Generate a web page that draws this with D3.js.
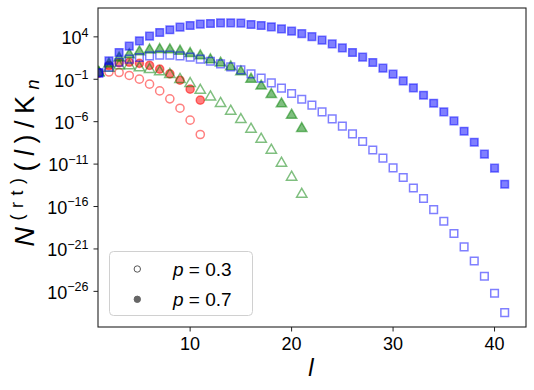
<!DOCTYPE html>
<html>
<head>
<meta charset="utf-8">
<script src="https://cdn.jsdelivr.net/npm/d3@7"></script>
<style>
  body { margin: 0; background: #fff; }
  text { font-family: "Liberation Sans", "Noto Sans", sans-serif; fill: #000; }
</style>
</head>
<body>
<svg id="chart" width="534" height="390"></svg>
<script>
// l values (cluster size)
var lValues = [1, 2, 3, 4, 5, 6, 7, 8, 9, 10, 11, 12, 13, 14, 15, 16, 17, 18, 19, 20,
  21, 22, 23, 24, 25, 26, 27, 28, 29, 30, 31, 32, 33, 34, 35, 36, 37, 38, 39, 40, 41];

// log10 of N^(rt)(l)/K_n
var redOpen = [-0.25, -0.15, -0.2, -0.55, -0.99, -1.58, -2.37, -3.31, -4.41, -5.82, -7.51];
var redFilled = [-0.25, 0.6, 0.95, 1.0, 0.88, 0.63, 0.19, -0.36, -1.11, -2.17, -3.46];
var greenOpen = [-0.25, 0.3, 0.6, 0.6, 0.35, 0.15, -0.13, -0.43, -1.02, -1.5, -2.29,
  -3.08, -3.85, -4.76, -5.74, -6.88, -8.06, -9.36, -10.89, -12.54, -14.55];
var greenFilled = [-0.2, 0.8, 1.5, 1.9, 2.23, 2.45, 2.51, 2.47, 2.31, 2.04, 1.76,
  1.3, 0.9, 0.46, -0.13, -0.99, -1.81, -2.79, -3.9, -5.23, -6.8];
var blueOpen = [-0.25, 0.43, 1.0, 1.37, 1.57, 1.76, 1.84, 1.84, 1.76, 1.61, 1.37, 1.13,
  0.82, 0.46, 0.11, -0.36, -0.87, -1.42, -2.05, -2.67, -3.35, -4.05, -4.84, -5.67,
  -6.53, -7.44, -8.34, -9.33, -10.3, -11.45, -12.58, -13.81, -15.06, -16.36, -17.73,
  -19.18, -20.76, -22.42, -24.22, -26.22, -28.5];
var blueFilled = [-0.25, 1.17, 2.16, 2.9, 3.53, 4.08, 4.52, 4.83, 5.14, 5.34, 5.5, 5.58,
  5.65, 5.65, 5.62, 5.46, 5.34, 5.18, 4.94, 4.67, 4.38, 4.02, 3.61, 3.17, 2.7, 2.16,
  1.61, 0.98, 0.31, -0.4, -1.19, -2.01, -2.88, -3.82, -4.84, -5.91, -7.12, -8.42,
  -9.83, -11.48, -13.37];

var xTicks = [10, 20, 30, 40];
var yTickExps = [4, -1, -6, -11, -16, -21, -26];
var legendLabels = ["0.3", "0.7"];

var series = [
  { v: redOpen, color: "#ff0000", shape: "circle", filled: false },
  { v: redFilled, color: "#ff0000", shape: "circle", filled: true },
  { v: greenOpen, color: "#008000", shape: "triangle", filled: false },
  { v: greenFilled, color: "#008000", shape: "triangle", filled: true },
  { v: blueOpen, color: "#0000ff", shape: "square", filled: false },
  { v: blueFilled, color: "#0000ff", shape: "square", filled: true }
];

var m = { left: 98, top: 8, right: 526, bottom: 327 };
var svg = d3.select("#chart");

var x = d3.scaleLinear().domain([0.92, 43.1]).range([m.left, m.right]);
var y = d3.scaleLog().domain([Math.pow(10, -30.2), Math.pow(10, 7.4)]).range([m.bottom, m.top]);

svg.append("clipPath").attr("id", "clip").append("rect")
  .attr("x", m.left).attr("y", m.top)
  .attr("width", m.right - m.left).attr("height", m.bottom - m.top);

var sym = {
  circle: d3.symbol().type(d3.symbolCircle).size(52),
  triangle: d3.symbol().type(d3.symbolTriangle).size(46),
  square: d3.symbol().type(d3.symbolSquare).size(58)
};

var plot = svg.append("g").attr("clip-path", "url(#clip)");
series.forEach(function(s) {
  var pts = s.v.map(function(e, i) { return { l: lValues[i], val: Math.pow(10, e) }; });
  plot.append("g").selectAll("path").data(pts).enter().append("path")
    .attr("transform", function(d) { return "translate(" + x(d.l) + "," + y(d.val) + ")"; })
    .attr("d", sym[s.shape]())
    .attr("fill", s.filled ? s.color : "none")
    .attr("fill-opacity", 0.5)
    .attr("stroke", s.color)
    .attr("stroke-opacity", 0.5)
    .attr("stroke-width", 1.5);
});

// frame
svg.append("rect").attr("x", m.left).attr("y", m.top)
  .attr("width", m.right - m.left).attr("height", m.bottom - m.top)
  .attr("fill", "none").attr("stroke", "#222").attr("stroke-width", 1.1);

// x axis
var xg = svg.append("g");
xTicks.forEach(function(t) {
  xg.append("line").attr("x1", x(t)).attr("x2", x(t))
    .attr("y1", m.bottom).attr("y2", m.bottom + 4.5).attr("stroke", "#222");
  xg.append("text").attr("x", x(t)).attr("y", 350).attr("text-anchor", "middle")
    .attr("font-size", 18).text(t);
});

// y axis
var yg = svg.append("g");
yTickExps.forEach(function(e) {
  var py = y(Math.pow(10, e));
  yg.append("line").attr("x1", m.left - 4.5).attr("x2", m.left)
    .attr("y1", py).attr("y2", py).attr("stroke", "#222");
  var t = yg.append("text").attr("x", 88.5).attr("y", py + 7.3)
    .attr("text-anchor", "end").attr("font-size", 18);
  t.append("tspan").text("10");
  t.append("tspan").attr("dy", -7.5).attr("font-size", 12.5)
    .text(String(e).replace("-", "\u2212"));
});

// axis labels
svg.append("text").attr("x", 311).attr("y", 376).attr("text-anchor", "middle")
  .attr("font-size", 24).attr("font-style", "italic").text("l");

var yl = svg.append("text")
  .attr("transform", "translate(34,163) rotate(-90)")
  .attr("text-anchor", "middle").attr("font-size", 27)
  .attr("textLength", 167).attr("lengthAdjust", "spacing");
yl.append("tspan").attr("font-style", "italic").text("N");
yl.append("tspan").attr("dy", -11).attr("font-size", 18).text("(rt)");
yl.append("tspan").attr("dy", 11).text("(");
yl.append("tspan").attr("font-style", "italic").text("l");
yl.append("tspan").text(")/K");
yl.append("tspan").attr("dy", 5).attr("font-size", 18).attr("font-style", "italic").text("n");

// legend
var lg = svg.append("g");
lg.append("rect").attr("x", 109.5).attr("y", 251.5).attr("width", 143).attr("height", 64)
  .attr("rx", 4).attr("fill", "#fff").attr("fill-opacity", 0.8)
  .attr("stroke", "#d0d0d0").attr("stroke-width", 1);
legendLabels.forEach(function(lab, i) {
  var cy = 269 + i * 30.3;
  lg.append("circle").attr("cx", 137.3).attr("cy", cy).attr("r", 3.2)
    .attr("fill", i ? "#666" : "#fff").attr("stroke", i ? "#666" : "#555")
    .attr("stroke-width", 1);
  var t = lg.append("text").attr("x", 173).attr("y", cy + 7).attr("font-size", 19);
  t.append("tspan").attr("font-style", "italic").text("p");
  t.append("tspan").text(" = " + lab);
});
</script>
</body>
</html>
